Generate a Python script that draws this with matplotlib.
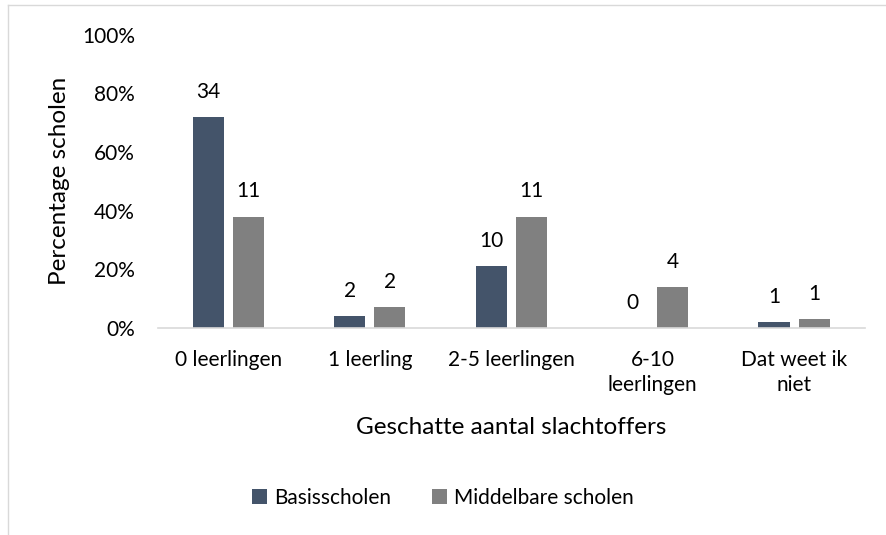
import numpy as np
import matplotlib
matplotlib.use("Agg")
import matplotlib.pyplot as plt
from matplotlib.lines import Line2D

categories = ["0 leerlingen", "1 leerling", "2-5 leerlingen", "6-10\nleerlingen", "Dat weet ik\nniet"]
basis_pct = [0.72, 0.04, 0.21, 0.00, 0.02]
middel_pct = [0.38, 0.07, 0.38, 0.14, 0.03]
basis_n = [34, 2, 10, 0, 1]
middel_n = [11, 2, 11, 4, 1]
yticks = [0, 0.2, 0.4, 0.6, 0.8, 1.0]

plt.rcParams["font.family"] = ["Lato", "DejaVu Sans"]
fig = plt.figure(figsize=(8.86, 5.35), dpi=100)
ax = fig.add_axes([0.178, 0.387, 0.798, 0.548])

x = np.arange(len(categories))
w = 0.22
gap = 0.064
b1 = ax.bar(x - (w + gap) / 2, basis_pct, w, color="#44546A", label="Basisscholen")
b2 = ax.bar(x + (w + gap) / 2, middel_pct, w, color="#808080", label="Middelbare scholen")
for bars, labels in ((b1, basis_n), (b2, middel_n)):
    for r, n in zip(bars, labels):
        ax.annotate(str(n), (r.get_x() + r.get_width() / 2, r.get_height()),
                    xytext=(0, 11), textcoords="offset points",
                    ha="center", va="bottom", fontsize=15, color="#000000")

ax.set_xlim(-0.5, len(categories) - 0.5)
ax.set_ylim(0, 1.0)
ax.set_yticks(yticks)
ax.set_yticklabels([f"{int(round(t * 100))}%" for t in yticks])
ax.set_xticks(x)
ax.set_xticklabels(categories, linespacing=1.3)
ax.tick_params(length=0, labelsize=15, colors="#000000")
ax.tick_params(axis="y", pad=16.5)
ax.tick_params(axis="x", pad=16)
for s in ("top", "right", "left"):
    ax.spines[s].set_visible(False)
ax.spines["bottom"].set_color("#D9D9D9")
ax.spines["bottom"].set_linewidth(1.2)

ax.set_ylabel("Percentage scholen", fontsize=17.5, va="center")
ax.yaxis.set_label_coords(-0.1386, 0.5)
ax.set_xlabel("Geschatte aantal slachtoffers", fontsize=17.5, va="center")
ax.xaxis.set_label_coords(0.5, -0.341)

ax.legend(loc="center", bbox_to_anchor=(0.5, 1 - 498 / 535), bbox_transform=fig.transFigure,
          ncol=2, frameon=False, fontsize=15, handlelength=0.7, handleheight=0.7,
          handletextpad=0.35, columnspacing=2.0)

# light chart border (top and left visible)
fig.add_artist(Line2D([8 / 886, 1], [1 - 5 / 535] * 2, transform=fig.transFigure, color="#D9D9D9", lw=1))
fig.add_artist(Line2D([8 / 886] * 2, [0, 1 - 5 / 535], transform=fig.transFigure, color="#D9D9D9", lw=1))

fig.savefig("out.png", dpi=100)
